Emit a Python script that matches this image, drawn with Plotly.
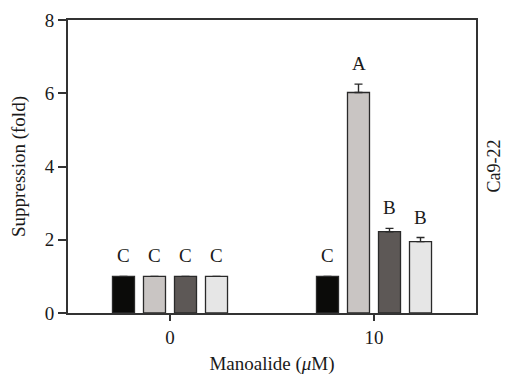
import plotly.graph_objects as go

# Manoalide dose (µM) on the x axis
doses = ["0", "10"]

# Fold suppression for the four treatment series at each dose
series_names = ["Series 1", "Series 2", "Series 3", "Series 4"]
values_s1 = [1.0, 1.0]
values_s2 = [1.0, 6.02]
values_s3 = [1.0, 2.22]
values_s4 = [1.0, 1.95]
errors_s1 = [0.0, 0.0]
errors_s2 = [0.0, 0.23]
errors_s3 = [0.0, 0.09]
errors_s4 = [0.0, 0.11]

# Significance letters over each bar
letters_s1 = ["C", "C"]
letters_s2 = ["C", "A"]
letters_s3 = ["C", "B"]
letters_s4 = ["C", "B"]

fill_colors = ["#0b0b09", "#c9c5c3", "#5d5856", "#e6e6e6"]
serif = "Liberation Serif"

all_values = [values_s1, values_s2, values_s3, values_s4]
all_errors = [errors_s1, errors_s2, errors_s3, errors_s4]
all_letters = [letters_s1, letters_s2, letters_s3, letters_s4]

fig = go.Figure()
for i, (name, vals, errs) in enumerate(zip(series_names, all_values, all_errors)):
    fig.add_trace(go.Bar(
        name=name,
        x=doses,
        y=vals,
        offsetgroup=str(i),
        marker=dict(color=fill_colors[i], line=dict(color="#2a2a2a", width=1.3)),
        error_y=dict(type="data", symmetric=False, array=errs,
                     arrayminus=[0] * len(errs), visible=True,
                     color="#2a2a2a", thickness=1.4, width=4),
        showlegend=False,
    ))

# Letter labels sit just above each bar (or its error bar)
n = len(series_names)
bargap = 0.392
pitch = (1 - bargap) / n
for i in range(n):
    for j, d in enumerate(doses):
        top = all_values[i][j] + all_errors[i][j]
        xpos = j - (1 - bargap) / 2 + pitch * (i + 0.5)
        fig.add_annotation(
            x=xpos, y=top, xref="x", yref="y",
            text=all_letters[i][j], showarrow=False,
            yanchor="bottom", yshift=8,
            font=dict(family=serif, size=19, color="#1a1a1a"),
        )

fig.add_annotation(
    x=1.0, y=0.5, xref="paper", yref="paper",
    xanchor="center", yanchor="middle", xshift=17,
    text="Ca9-22", textangle=-90, showarrow=False,
    font=dict(family=serif, size=18, color="#1a1a1a"),
)

axis_common = dict(
    showline=True, linecolor="#333333", linewidth=1.8, mirror=True,
    showgrid=False, zeroline=False, automargin=False,
    tickfont=dict(family=serif, size=19, color="#1a1a1a"),
    ticks="outside", tickcolor="#333333", tickwidth=1.5,
)

fig.update_layout(
    width=505, height=375,
    margin=dict(l=68, r=29, t=20, b=62),
    paper_bgcolor="white", plot_bgcolor="white",
    barmode="group", bargap=bargap, bargroupgap=0.29,
    font=dict(family=serif, color="#1a1a1a"),
    xaxis=dict(
        **axis_common,
        type="category", range=[-0.5, 1.5], ticklen=6,
        title=dict(text="Manoalide (<i>μ</i>M)", font=dict(family=serif, size=19),
                   standoff=12),
    ),
    yaxis=dict(
        **axis_common,
        range=[0, 8], tickvals=[0, 2, 4, 6, 8], ticklen=8,
        title=dict(text="Suppression (fold)", font=dict(family=serif, size=19),
                   standoff=14),
    ),
)

fig.write_html("out.html")
